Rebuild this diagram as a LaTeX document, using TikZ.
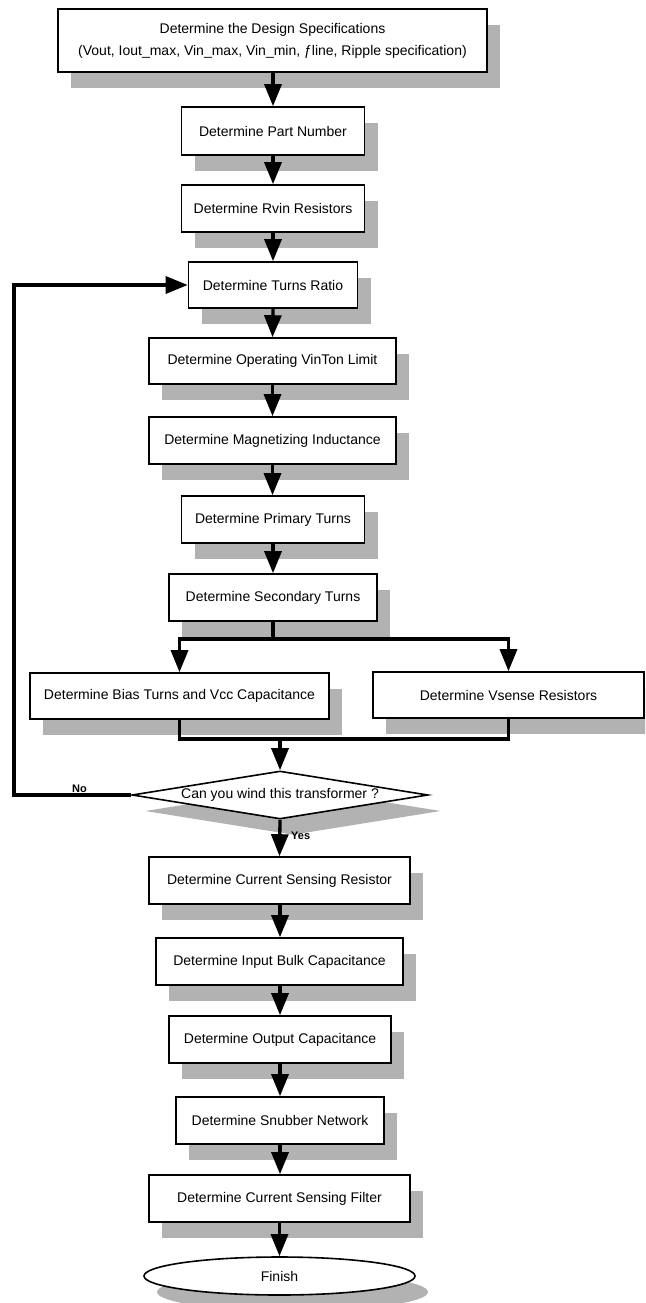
\documentclass[tikz,border=0pt]{standalone}
\usepackage{fontspec}
\setmainfont{Liberation Sans}
\usetikzlibrary{arrows.meta,shapes.geometric,shadows}
\definecolor{shadowgray}{RGB}{178,178,178}
\begin{document}
\begin{tikzpicture}[x=1pt,y=-1pt,
  shad/.style={drop shadow={shadow xshift=13pt, shadow yshift=-16pt, fill=shadowgray, opacity=1}},
  base/.style={draw, line width=1.6pt, fill=white, inner sep=0pt, align=center,
    font=\fontsize{14}{20}\selectfont, shad},
  box/.style={base, rectangle, minimum height=47pt},
  ln/.style={line width=3.3pt},
  arr/.style={ln, -{Triangle[length=22pt,width=17pt]}},
  lbl/.style={font=\fontsize{11}{13}\selectfont\bfseries, inner sep=0pt}
]
\clip (0,0) rectangle (645,1303);

\node[box, minimum width=429pt, minimum height=63pt, font=\fontsize{14}{22}\selectfont] (spec) at (272.5,40.5)
  {Determine the Design Specifications\\(Vout, Iout\_max, Vin\_max, Vin\_min, ƒline, Ripple specification)};
\node[box, minimum width=183pt, minimum height=48pt] (part) at (273,131) {Determine Part Number};
\node[box, minimum width=183pt] (rvin) at (273,208.5) {Determine Rvin Resistors};
\node[box, minimum width=169pt, minimum height=46pt] (turns) at (273,285) {Determine Turns Ratio};
\node[box, minimum width=247pt, minimum height=46pt] (vinton) at (272.5,361) {Determine Operating VinTon Limit};
\node[box, minimum width=247pt] (mag) at (272.5,440.5) {Determine Magnetizing Inductance};
\node[box, minimum width=183pt] (prim) at (273,519.5) {Determine Primary Turns};
\node[box, minimum width=208pt] (sec) at (273,597.5) {Determine Secondary Turns};
\node[box, minimum width=299pt, minimum height=46pt] (bias) at (179.5,696) {Determine Bias Turns and Vcc Capacitance};
\node[box, minimum width=271pt, minimum height=46pt] (vsense) at (508.5,695) {Determine Vsense Resistors};
\node[base, diamond, minimum width=296pt, minimum height=48pt, aspect=6.2] (dia) at (280,795) {Can you wind this transformer ?};
\node[box, minimum width=261pt] (csr) at (279.5,880.5) {Determine Current Sensing Resistor};
\node[box, minimum width=247pt] (bulk) at (279.5,961.5) {Determine Input Bulk Capacitance};
\node[box, minimum width=222pt] (outcap) at (280,1039.5) {Determine Output Capacitance};
\node[box, minimum width=208pt] (snub) at (280,1120.5) {Determine Snubber Network};
\node[box, minimum width=261pt] (filt) at (279.5,1198.5) {Determine Current Sensing Filter};
\node[base, ellipse, minimum width=271pt, minimum height=38pt] (fin) at (279.5,1276) {Finish};

\coordinate (split) at (273,639);
\coordinate (merge) at (280,739);
\coordinate (fb) at (14,795);

\draw[arr] (spec.south -| part.north) -- (part.north);
\draw[arr] (part.south) -- (rvin.north);
\draw[arr] (rvin.south) -- (turns.north);
\draw[arr] (turns.south) -- (vinton.south |- vinton.north);
\draw[arr] (vinton.south) -- (mag.north);
\draw[arr] (mag.south) -- (prim.north -| mag.south);
\draw[arr] (prim.south) -- (sec.north);
\draw[ln] (sec.south) -- (split);
\draw[arr] (split) -| (bias.north);
\draw[arr] (split) -| (vsense.north);
\draw[ln] (bias.south) -- (bias.south |- merge) -- (vsense.south |- merge) -- (vsense.south);
\draw[arr] (merge) -- (dia.north);
\draw[arr] (dia.west) -- (dia.west -| fb) |- (turns.west);
\draw[arr] (dia.south) -- (csr.north);
\draw[arr] (csr.south -| dia.south) -- (bulk.north -| dia.south);
\draw[arr] (bulk.south -| dia.south) -- (outcap.north);
\draw[arr] (outcap.south) -- (snub.north);
\draw[arr] (snub.south) -- (filt.north -| snub.south);
\draw[arr] (filt.south -| fin.north) -- (fin.north);

\node[lbl, anchor=base] (no) at (79.5,792) {No};
\node[lbl, anchor=base west] (yes) at (291,839) {Yes};
\end{tikzpicture}
\end{document}
